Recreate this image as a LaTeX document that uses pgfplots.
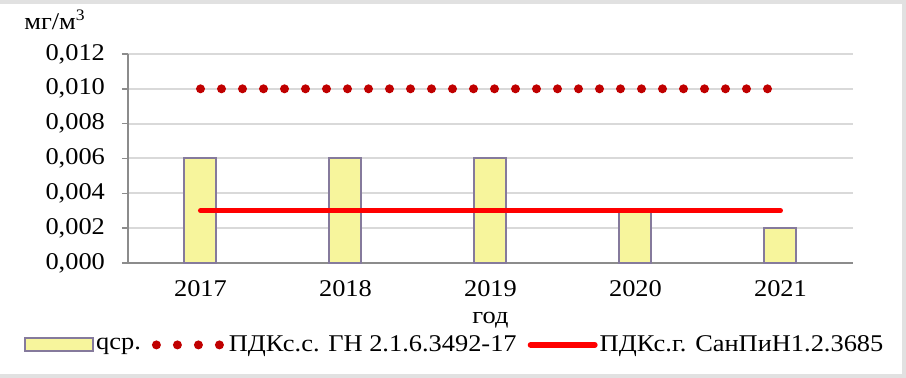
\documentclass[border=0pt]{standalone}
\usepackage{pgfplots}
\pgfplotsset{compat=1.18}
\usepackage{fontspec}
\setmainfont{Liberation Serif}[FakeStretch=1.1]
\definecolor{barfill}{HTML}{F7F59C}
\definecolor{bardraw}{HTML}{857A9C}
\definecolor{dotred}{HTML}{C00000}
\definecolor{linered}{HTML}{FF0000}
\definecolor{gridgray}{HTML}{D9D9D9}
\definecolor{axgray}{HTML}{8C8C8C}
\begin{document}
\begin{tikzpicture}[font=\fontsize{12}{14}\selectfont]
\path[use as bounding box] (-64pt,-57.5pt) rectangle (389pt,131.5pt);
\draw[gridgray!80, line width=2pt] (-64pt,130.5pt) -- (388pt,130.5pt) -- (388pt,-56.5pt) -- (-64pt,-56.5pt);
\begin{axis}[
  at={(0,0)}, anchor=south west,
  scale only axis, width=362.5pt, height=104.5pt,
  xmin=-0.5, xmax=4.5, ymin=0, ymax=0.012,
  xtick={0,1,2,3,4}, xticklabels={2017,2018,2019,2020,2021},
  extra x ticks={-0.5,0.5,1.5,2.5,3.5,4.5}, extra x tick labels={},
  extra x tick style={major tick length=3.5pt, tick style={axgray, line width=0.8pt}, grid=none},
  x tick style={draw=none},
  ytick={0,0.002,0.004,0.006,0.008,0.010,0.012},
  y tick style={axgray, line width=0.8pt},
  tick align=outside, major tick length=3pt,
  ymajorgrids, grid style={gridgray, line width=1pt},
  axis x line*=bottom, axis y line*=left,
  axis line style={axgray, line width=0.8pt, -},
  /pgf/number format/fixed, /pgf/number format/fixed zerofill, /pgf/number format/precision=3,
  /pgf/number format/use comma, /pgf/number format/assume math mode=true,
  yticklabel style={xshift=-5pt},
  xticklabel style={yshift=-2pt},
  scaled y ticks=false,
  xlabel={год}, xlabel style={at={(axis description cs:0.5,0)}, anchor=center, yshift=-28.5pt},
  clip=false,
  legend style={at={(axis description cs:-0.152,-0.392)}, anchor=west, draw=none, fill=none,
    legend columns=-1, font=\fontsize{12}{14}\selectfont,
    /tikz/every even column/.append style={column sep=4.5pt},
    nodes={inner sep=1pt}},
]
\addplot[ybar, bar width=16pt, fill=barfill, draw=bardraw, line width=1pt,
  legend image code/.code={\draw[fill=barfill, draw=bardraw, line width=1pt] (0pt,-3.25pt) rectangle (34pt,3.25pt);}]
  coordinates {(0,0.006) (1,0.006) (2,0.006) (3,0.003) (4,0.002)};
\addlegendentry{qср.}
\addplot[dotred, line width=4.5pt, line cap=round, dash pattern=on 0pt off 10.5pt,
  legend image code/.code={\draw[dotred, line width=4.5pt, line cap=round, dash pattern=on 0pt off 10.5pt] (3pt,0pt) -- (36pt,0pt);}]
  coordinates {(0,0.010) (4,0.010)};
\addlegendentry{ПДКс.с. ГН 2.1.6.3492-17\hspace{6pt}}
\addplot[linered, line width=2.5pt, line cap=round,
  legend image code/.code={\draw[linered, line width=3pt, line cap=round] (2pt,0pt) -- (34pt,0pt);}]
  coordinates {(0,0.003) (4,0.003)};
\addlegendentry{ПДКс.г. СанПиН1.2.3685}
\end{axis}
\node at (-36.5pt,121.5pt) {мг/м\textsuperscript{3}};
\end{tikzpicture}
\end{document}
